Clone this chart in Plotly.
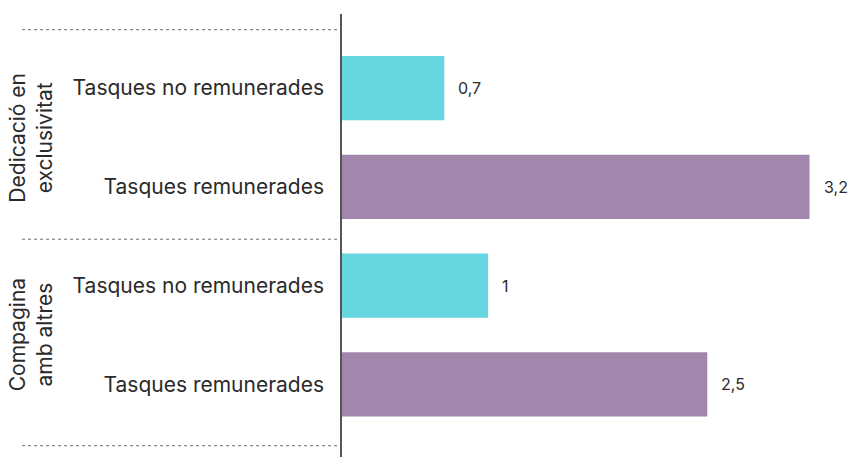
import plotly.graph_objects as go

# ---- data ----
groups = ["Dedicació en<br>exclusivitat", "Compagina<br>amb altres"]
categories = ["Tasques no remunerades", "Tasques remunerades"]
values_no_rem = [0.7, 1.0]   # Tasques no remunerades, per group
values_rem = [3.2, 2.5]      # Tasques remunerades, per group

CYAN = "#66D6E0"
PURPLE = "#A386AC"
FONT = "Inter"
TEXT = "#2a2a2a"

def key(g, c):
    return g.replace("<br>", " ") + " | " + c

order = [key(g, c) for g in groups for c in categories]
ticktext = [c for g in groups for c in categories]

def fmt(v):
    return f"{v:g}".replace(".", ",")

fig = go.Figure()
fig.add_trace(go.Bar(
    y=[key(g, categories[0]) for g in groups], x=values_no_rem,
    orientation="h", marker=dict(color=CYAN, line=dict(width=0)),
    width=0.65, hoverinfo="skip", showlegend=False))
fig.add_trace(go.Bar(
    y=[key(g, categories[1]) for g in groups], x=values_rem,
    orientation="h", marker=dict(color=PURPLE, line=dict(width=0)),
    width=0.65, hoverinfo="skip", showlegend=False))

# value labels
for g, v in zip(groups, values_no_rem):
    fig.add_annotation(x=v, y=key(g, categories[0]), text=fmt(v), showarrow=False,
                       xanchor="left", xshift=12, font=dict(family=FONT, size=16, color=TEXT))
for g, v in zip(groups, values_rem):
    fig.add_annotation(x=v, y=key(g, categories[1]), text=fmt(v), showarrow=False,
                       xanchor="left", xshift=12, font=dict(family=FONT, size=16, color=TEXT))

# group labels (rotated)
group_centers = [0.5, 2.5]
for g, c in zip(groups, group_centers):
    fig.add_annotation(x=-0.613, xref="paper", y=c, yref="y", text=g, showarrow=False,
                       textangle=-90, xanchor="center", yanchor="middle",
                       font=dict(family=FONT, size=21, color=TEXT))

# dotted separators
for yv in [-0.59, 1.53, 3.62]:
    fig.add_shape(type="line", xref="paper", yref="y", x0=-0.631, x1=0, y0=yv, y1=yv,
                  line=dict(color="#666", width=1, dash="dot"), layer="below")

fig.update_layout(
    width=849, height=457,
    margin=dict(l=342, r=0, t=14, b=0, autoexpand=False),
    paper_bgcolor="white", plot_bgcolor="white",
    barmode="overlay",
    font=dict(family=FONT, size=21, color=TEXT),
    xaxis=dict(range=[0, 3.47], showgrid=False, zeroline=False, showticklabels=False,
               showline=False, ticks="", automargin=False),
    yaxis=dict(type="category", categoryorder="array", categoryarray=order,
               tickmode="array", tickvals=order, ticktext=ticktext,
               range=[3.734, -0.749], showgrid=False, zeroline=False,
               showline=True, linecolor="#555", linewidth=1.5, automargin=False,
               ticks="outside", ticklen=12, tickcolor="rgba(0,0,0,0)",
               tickfont=dict(family=FONT, size=21, color=TEXT)),
)

fig.write_html("out.html", config={"displayModeBar": False},
               post_script="document.body.style.margin='0';document.body.style.overflow='hidden';")
